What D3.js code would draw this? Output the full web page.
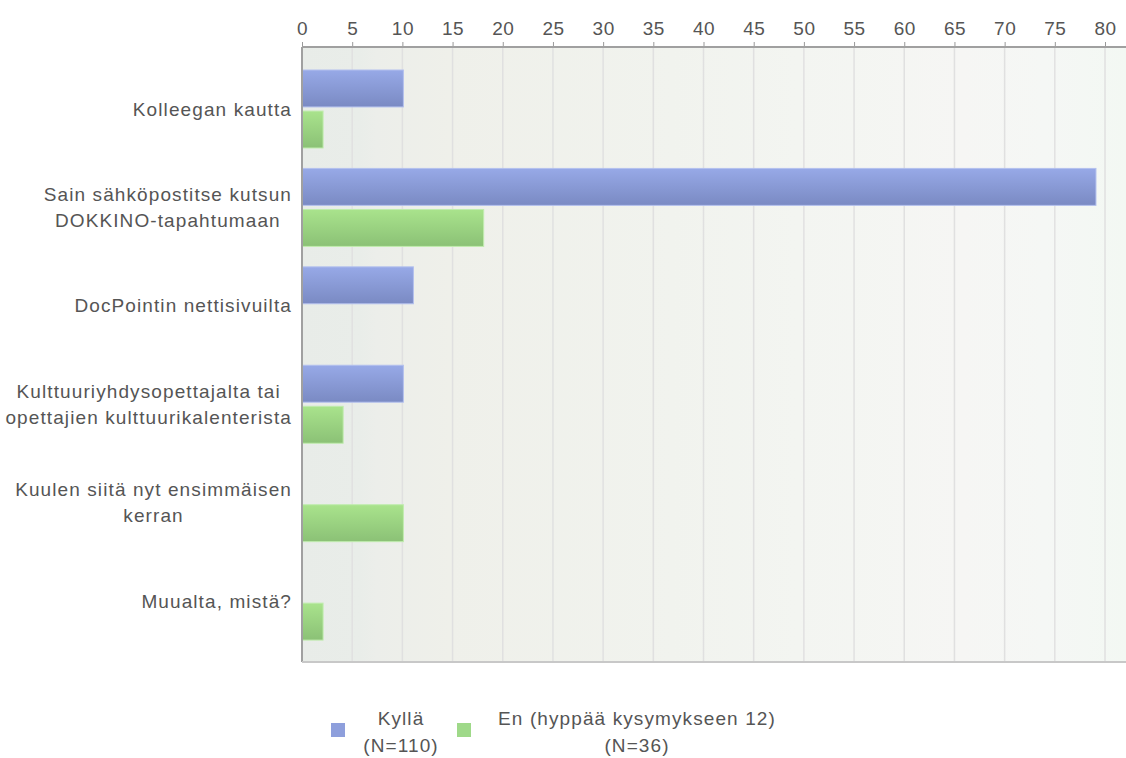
<!DOCTYPE html>
<html><head><meta charset="utf-8">
<script src="https://cdn.jsdelivr.net/npm/d3@7"></script>
<style>body{margin:0;background:#fff}svg{display:block}text{font-family:"Liberation Sans",Arial,sans-serif}</style>
</head><body>
<svg id="c" width="1126" height="758"></svg>
<script>
const categories = [
  ["Kolleegan kautta"],
  ["Sain sähköpostitse kutsun","DOKKINO-tapahtumaan"],
  ["DocPointin nettisivuilta"],
  ["Kulttuuriyhdysopettajalta tai","opettajien kulttuurikalenterista"],
  ["Kuulen siitä nyt ensimmäisen","kerran"],
  ["Muualta, mistä?"]
];
const seriesNames = ["Kyllä","En (hyppää kysymykseen 12)"];
const seriesN = ["(N=110)","(N=36)"];
const kylla = [10, 79, 11, 10, 0, 0];
const en = [2, 18, 0, 4, 10, 2];
const xTicks = [0,5,10,15,20,25,30,35,40,45,50,55,60,65,70,75,80];

(function(){
const svg = d3.select("#c");
const pLeft = 302, pRight = 1126, pTop = 47, pBottom = 662;
const x = d3.scaleLinear().domain([0,80]).range([302,1105]);
const catIdx = categories.map((d,i)=>i);
const y = d3.scaleBand().domain(catIdx).range([60, 650.5]).padding(0);
const ySub = d3.scaleBand().domain([0,1]).range([10, 88]).paddingInner(0.1);
const FS = "19px", LS = "1.1px";

const defs = svg.append("defs");
const bg = defs.append("linearGradient").attr("id","bg").attr("x1","0").attr("x2","1").attr("y1","0").attr("y2","0");
[[0,"#e8ece8"],[0.07,"#e9ede9"],[0.09,"#eceeea"],[0.18,"#eff0ea"],[0.45,"#f1f3ee"],[0.6,"#f3f5f1"],[0.8,"#f6f6f4"],[0.9,"#f5f7f5"],[1,"#f3f8f3"]]
  .forEach(([o,c])=>bg.append("stop").attr("offset",o).attr("stop-color",c));
function grad(id, c1, c2){
  const g = defs.append("linearGradient").attr("id",id).attr("x1","0").attr("x2","0").attr("y1","0").attr("y2","1");
  g.append("stop").attr("offset",0).attr("stop-color",c1);
  g.append("stop").attr("offset",1).attr("stop-color",c2);
}
grad("gb","#97a9e7","#7a8ac3");
grad("gg","#a9e38c","#8bc176");
const fills = ["url(#gb)","url(#gg)"];
const strokes = ["#b3c0ee","#c0ecae"];
const legendColors = ["#8e9fdc","#9fd989"];

svg.append("rect").attr("x",pLeft).attr("y",pTop).attr("width",pRight-pLeft).attr("height",pBottom-pTop).attr("fill","url(#bg)");

svg.append("g").selectAll("line").data(xTicks.slice(1)).join("line")
  .attr("x1",d=>x(d)).attr("x2",d=>x(d)).attr("y1",pTop).attr("y2",pBottom)
  .attr("stroke","#e0e0e0").attr("stroke-width",1.5);

const data = [kylla, en];
const g = svg.append("g");
catIdx.forEach(i=>{
  [0,1].forEach(s=>{
    const v = data[s][i];
    if(v<=0) return;
    g.append("rect").attr("x",x(0)).attr("y",y(i)+ySub(s))
      .attr("width",x(v)-x(0)+1).attr("height",ySub.bandwidth())
      .attr("fill",fills[s]).attr("stroke",strokes[s]).attr("stroke-width",1);
  });
});

const ax = svg.append("g").attr("transform",`translate(0,${pTop})`)
  .call(d3.axisTop(x).tickValues(xTicks).tickSize(5).tickPadding(7));
ax.select(".domain").remove();
ax.selectAll(".tick line").attr("stroke","#999");
ax.selectAll(".tick text").attr("fill","#555").style("font-size",FS).style("letter-spacing","0.5px").style("font-family","'Liberation Sans',Arial,sans-serif");
svg.append("line").attr("x1",pLeft).attr("x2",pRight).attr("y1",pTop).attr("y2",pTop).attr("stroke","#a0a0a0").attr("stroke-width",2);
svg.append("line").attr("x1",pLeft).attr("x2",pLeft).attr("y1",pTop).attr("y2",pBottom).attr("stroke","#a0a0a0").attr("stroke-width",2);
svg.append("line").attr("x1",pLeft).attr("x2",pRight).attr("y1",pBottom).attr("y2",pBottom).attr("stroke","#c8c8c8").attr("stroke-width",2);

const lh = 26;
catIdx.forEach(i=>{
  const lines = categories[i];
  const cy = y(i) + ySub(0) + ySub.bandwidth() + 2;
  const t = svg.append("text").attr("fill","#555").style("font-size",FS).style("letter-spacing",LS);
  lines.forEach((l,k)=>{
    t.append("tspan").attr("y", cy - (lines.length-1)*lh/2 + k*lh).attr("dy","0.35em").text(l);
  });
  const widths = [];
  t.selectAll("tspan").each(function(){widths.push(this.getComputedTextLength());});
  const mw = d3.max(widths);
  const cx = 292 - mw/2;
  t.attr("text-anchor","middle").selectAll("tspan").attr("x",cx);
});

const leg = [{sx:331, tx:401},{sx:457, tx:637}];
leg.forEach((L,s)=>{
  svg.append("rect").attr("x",L.sx).attr("y",723).attr("width",14).attr("height",14).attr("fill",legendColors[s]);
  const t = svg.append("text").attr("fill","#555").attr("text-anchor","middle").style("font-size",FS).style("letter-spacing",LS);
  t.append("tspan").attr("x",L.tx).attr("y",725).text(seriesNames[s]);
  t.append("tspan").attr("x",L.tx).attr("y",752).text(seriesN[s]);
});
})();
</script>
</body></html>
